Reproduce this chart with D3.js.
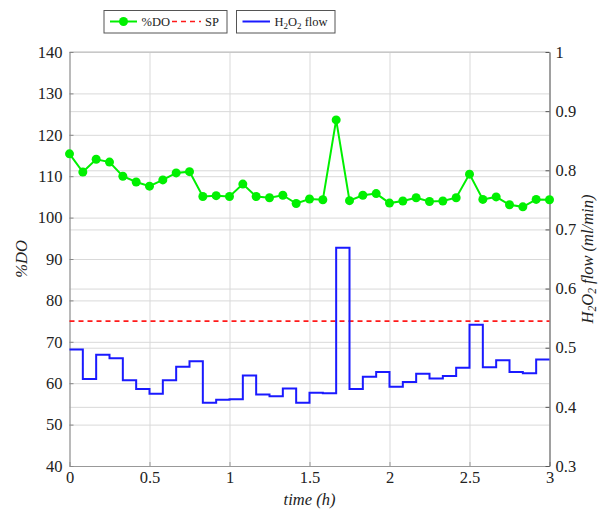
<!DOCTYPE html>
<html>
<head>
<meta charset="utf-8">
<script src="https://cdn.jsdelivr.net/npm/d3@7"></script>
<style>
  body { margin: 0; background: #fff; }
  svg text { font-family: "Liberation Serif", "Times New Roman", serif !important; fill: #222; }
  .grid line { stroke: #d9d9d9; stroke-width: 1; }
  .grid path { display: none; }
</style>
</head>
<body>
<div id="chart"></div>
<script>
// sample times (minutes) and measured values
var timeMin = [0, 5, 10, 15, 20, 25, 30, 35, 40, 45, 50, 55, 60, 65, 70, 75, 80, 85, 90,
  95, 100, 105, 110, 115, 120, 125, 130, 135, 140, 145, 150, 155, 160, 165, 170, 175, 180];

var doValues = [115.4, 111.0, 114.1, 113.4, 110.0, 108.6, 107.6, 109.1, 110.8, 111.1,
  105.1, 105.3, 105.1, 108.1, 105.1, 104.8, 105.4, 103.4, 104.5, 104.3,
  123.6, 104.1, 105.4, 105.8, 103.5, 104.0, 104.8, 103.9, 104.0, 104.8,
  110.5, 104.4, 105.0, 103.1, 102.6, 104.4, 104.3];

// H2O2 flow held constant over each interval
var flowValues = [0.497, 0.447, 0.488, 0.482, 0.445, 0.430, 0.422, 0.445, 0.468, 0.477,
  0.407, 0.412, 0.413, 0.453, 0.421, 0.418, 0.431, 0.407, 0.424, 0.423,
  0.669, 0.430, 0.451, 0.459, 0.434, 0.442, 0.456, 0.448, 0.452, 0.466,
  0.539, 0.467, 0.479, 0.459, 0.457, 0.480, 0.480];

var setPoint = 75;

var xTicks = [0, 0.5, 1, 1.5, 2, 2.5, 3];
var leftTicks = [40, 50, 60, 70, 80, 90, 100, 110, 120, 130, 140];
var rightTicks = [0.3, 0.4, 0.5, 0.6, 0.7, 0.8, 0.9, 1];

var serif = "Liberation Serif";

var svgWidth = 606, svgHeight = 511;
var margin = { top: 52, right: 56.5, bottom: 45, left: 69.5 };
var width = svgWidth - margin.left - margin.right;
var height = svgHeight - margin.top - margin.bottom;

var svg = d3.select("#chart").append("svg")
  .attr("width", svgWidth)
  .attr("height", svgHeight)
  .attr("font-family", serif);

var g = svg.append("g")
  .attr("transform", `translate(${margin.left}, ${margin.top})`);

var x = d3.scaleLinear().domain([0, 3]).range([0, width]);
var yL = d3.scaleLinear().domain([40, 140]).range([height, 0]);
var yR = d3.scaleLinear().domain([0.3, 1]).range([height, 0]);

// grids from both axes
g.append("g").attr("class", "grid")
  .attr("transform", `translate(0, ${height})`)
  .call(d3.axisBottom(x).tickValues(xTicks).tickSize(-height).tickFormat(""));
g.append("g").attr("class", "grid")
  .call(d3.axisLeft(yL).tickValues(leftTicks).tickSize(-width).tickFormat(""));
g.append("g").attr("class", "grid")
  .call(d3.axisLeft(yR).tickValues(rightTicks).tickSize(-width).tickFormat(""));

// frame top
g.append("line").attr("x1", 0).attr("x2", width).attr("y1", 0).attr("y2", 0)
  .attr("stroke", "#b8b8b8");

// axes (ticks inside)
function styleAxis(sel, col) {
  sel.attr("font-family", serif).attr("font-size", 16.5);
  sel.select(".domain").attr("stroke", col);
  sel.selectAll(".tick line").attr("stroke", col);
  sel.selectAll(".tick text").attr("fill", "#222").attr("font-family", serif);
}

var xAxis = g.append("g")
  .attr("transform", `translate(0, ${height})`)
  .call(d3.axisBottom(x).tickValues(xTicks).tickSize(-4).tickSizeOuter(0).tickPadding(5)
    .tickFormat(d3.format("")));
styleAxis(xAxis, "#999");

var leftAxis = g.append("g")
  .call(d3.axisLeft(yL).tickValues(leftTicks).tickSize(-4).tickSizeOuter(0).tickPadding(7));
styleAxis(leftAxis, "#888");

var rightAxis = g.append("g")
  .attr("transform", `translate(${width}, 0)`)
  .call(d3.axisRight(yR).tickValues(rightTicks).tickSize(-4).tickSizeOuter(0).tickPadding(6)
    .tickFormat(d3.format("")));
styleAxis(rightAxis, "#555");

// set point
g.append("line")
  .attr("x1", 0).attr("x2", width)
  .attr("y1", yL(setPoint)).attr("y2", yL(setPoint))
  .attr("stroke", "#ff1a1a").attr("stroke-width", 1.6)
  .attr("stroke-dasharray", "5,4");

// H2O2 flow
var flowLine = d3.line()
  .x((d, i) => x(timeMin[i] / 60))
  .y(d => yR(d))
  .curve(d3.curveStepAfter);

g.append("path")
  .datum(flowValues)
  .attr("fill", "none")
  .attr("stroke", "#1a1aff")
  .attr("stroke-width", 2)
  .attr("d", flowLine);

// %DO
var doLine = d3.line()
  .x((d, i) => x(timeMin[i] / 60))
  .y(d => yL(d));

g.append("path")
  .datum(doValues)
  .attr("fill", "none")
  .attr("stroke", "#00f000")
  .attr("stroke-width", 2)
  .attr("d", doLine);

g.selectAll(".dot")
  .data(doValues)
  .enter()
  .append("circle")
  .attr("cx", (d, i) => x(timeMin[i] / 60))
  .attr("cy", d => yL(d))
  .attr("r", 4.5)
  .attr("fill", "#00f000");

// axis titles
svg.append("text")
  .attr("x", margin.left + width / 2).attr("y", 505)
  .attr("text-anchor", "middle")
  .attr("font-size", 16.5).attr("font-style", "italic")
  .text("time (h)");

svg.append("text")
  .attr("transform", `translate(27, ${margin.top + height / 2}) rotate(-90)`)
  .attr("text-anchor", "middle")
  .attr("font-size", 16.5).attr("font-style", "italic")
  .text("%DO");

var rTitle = svg.append("text")
  .attr("transform", `translate(593, ${margin.top + height / 2}) rotate(-90)`)
  .attr("text-anchor", "middle")
  .attr("font-size", 16.5).attr("font-style", "italic");
rTitle.append("tspan").text("H");
rTitle.append("tspan").attr("font-size", 11.5).attr("dy", 3).text("2");
rTitle.append("tspan").attr("dy", -3).text("O");
rTitle.append("tspan").attr("font-size", 11.5).attr("dy", 3).text("2");
rTitle.append("tspan").attr("dy", -3).text(" flow (ml/min)");

// legend
var legend = svg.append("g");
legend.append("rect")
  .attr("x", 104).attr("y", 10.5).attr("width", 123).attr("height", 22.5)
  .attr("fill", "#fff").attr("stroke", "#555");
legend.append("rect")
  .attr("x", 236.5).attr("y", 10.5).attr("width", 98.5).attr("height", 22.5)
  .attr("fill", "#fff").attr("stroke", "#555");

legend.append("line").attr("x1", 110).attr("x2", 137).attr("y1", 21.5).attr("y2", 21.5)
  .attr("stroke", "#00f000").attr("stroke-width", 2);
legend.append("circle").attr("cx", 123.5).attr("cy", 21.5).attr("r", 4.5).attr("fill", "#00f000");
legend.append("text").attr("x", 141.5).attr("y", 26).attr("font-size", 12.5).text("%DO");

legend.append("line").attr("x1", 172).attr("x2", 201).attr("y1", 21.5).attr("y2", 21.5)
  .attr("stroke", "#ff1a1a").attr("stroke-width", 1.6).attr("stroke-dasharray", "5,4");
legend.append("text").attr("x", 205).attr("y", 26).attr("font-size", 12.5).text("SP");

legend.append("line").attr("x1", 242.5).attr("x2", 270).attr("y1", 21.5).attr("y2", 21.5)
  .attr("stroke", "#1a1aff").attr("stroke-width", 2);
var lt = legend.append("text").attr("x", 274.5).attr("y", 26).attr("font-size", 12.5);
lt.append("tspan").text("H");
lt.append("tspan").attr("font-size", 9).attr("dy", 2.5).text("2");
lt.append("tspan").attr("dy", -2.5).text("O");
lt.append("tspan").attr("font-size", 9).attr("dy", 2.5).text("2");
lt.append("tspan").attr("dy", -2.5).text(" flow");
</script>
</body>
</html>
